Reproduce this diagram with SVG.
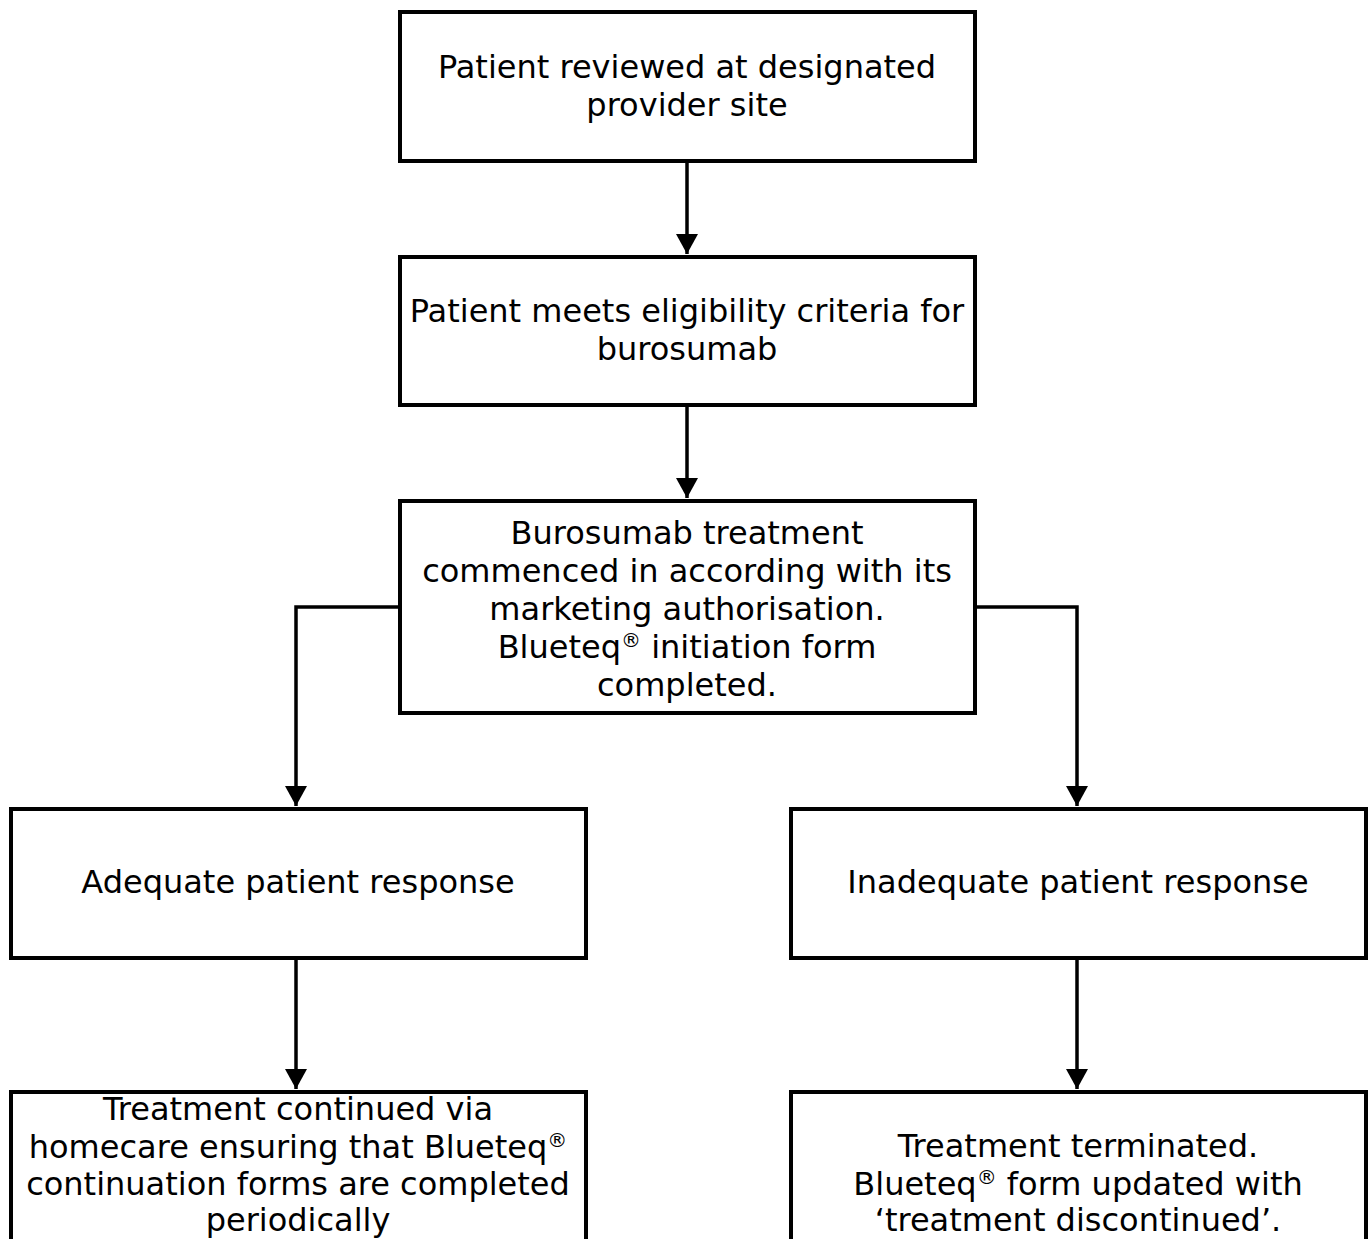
<svg xmlns="http://www.w3.org/2000/svg" width="1370" height="1239" viewBox="0 0 1370 1239">
<style>
.box{fill:#fff;stroke:#000;stroke-width:4}
.t{font-family:"DejaVu Sans",Verdana,sans-serif;font-size:32px;fill:#000;text-anchor:middle}
.c{fill:none;stroke:#000;stroke-width:3.5}
.sup{font-size:20px}
</style>
<defs>
<marker id="ah" markerUnits="userSpaceOnUse" markerWidth="20" markerHeight="22" viewBox="0 0 20 22" refX="20" refY="11" orient="auto">
<path d="M0,0 L20,11 L0,22 Z" fill="#000"/>
</marker>
</defs>
<rect width="1370" height="1239" fill="#fff"/>
<g id="connectors">
<line class="c" x1="687" y1="161" x2="687" y2="254" marker-end="url(#ah)"/>
<line class="c" x1="687" y1="405" x2="687" y2="498" marker-end="url(#ah)"/>
<polyline class="c" points="398,607 296,607 296,806" marker-end="url(#ah)"/>
<polyline class="c" points="977,607 1077,607 1077,806" marker-end="url(#ah)"/>
<line class="c" x1="296" y1="959" x2="296" y2="1089" marker-end="url(#ah)"/>
<line class="c" x1="1077" y1="959" x2="1077" y2="1089" marker-end="url(#ah)"/>
</g>
<g id="n1">
<rect class="box" x="400" y="12" width="575" height="149"/>
<text class="t" x="687" y="78">Patient reviewed at designated</text>
<text class="t" x="687" y="116">provider site</text>
</g>
<g id="n2">
<rect class="box" x="400" y="257" width="575" height="148"/>
<text class="t" x="687" y="322">Patient meets eligibility criteria for</text>
<text class="t" x="687" y="360">burosumab</text>
</g>
<g id="n3">
<rect class="box" x="400" y="501" width="575" height="212"/>
<text class="t" x="687" y="544">Burosumab treatment</text>
<text class="t" x="687" y="582">commenced in according with its</text>
<text class="t" x="687" y="620">marketing authorisation.</text>
<text class="t" x="687" y="658">Blueteq<tspan class="sup" dy="-11">®</tspan><tspan dy="11"> initiation form</tspan></text>
<text class="t" x="687" y="696">completed.</text>
</g>
<g id="n4">
<rect class="box" x="11" y="809" width="575" height="149"/>
<text class="t" x="298" y="893">Adequate patient response</text>
</g>
<g id="n5">
<rect class="box" x="791" y="809" width="575" height="149"/>
<text class="t" x="1078" y="893">Inadequate patient response</text>
</g>
<g id="n6">
<rect class="box" x="11" y="1092" width="575" height="160"/>
<text class="t" x="298" y="1120">Treatment continued via</text>
<text class="t" x="298" y="1158">homecare ensuring that Blueteq<tspan class="sup" dy="-11">®</tspan></text>
<text class="t" x="298" y="1195">continuation forms are completed</text>
<text class="t" x="298" y="1231">periodically</text>
</g>
<g id="n7">
<rect class="box" x="791" y="1092" width="575" height="160"/>
<text class="t" x="1078" y="1157">Treatment terminated.</text>
<text class="t" x="1078" y="1195">Blueteq<tspan class="sup" dy="-11">®</tspan><tspan dy="11"> form updated with</tspan></text>
<text class="t" x="1078" y="1231">‘treatment discontinued’.</text>
</g>
</svg>
